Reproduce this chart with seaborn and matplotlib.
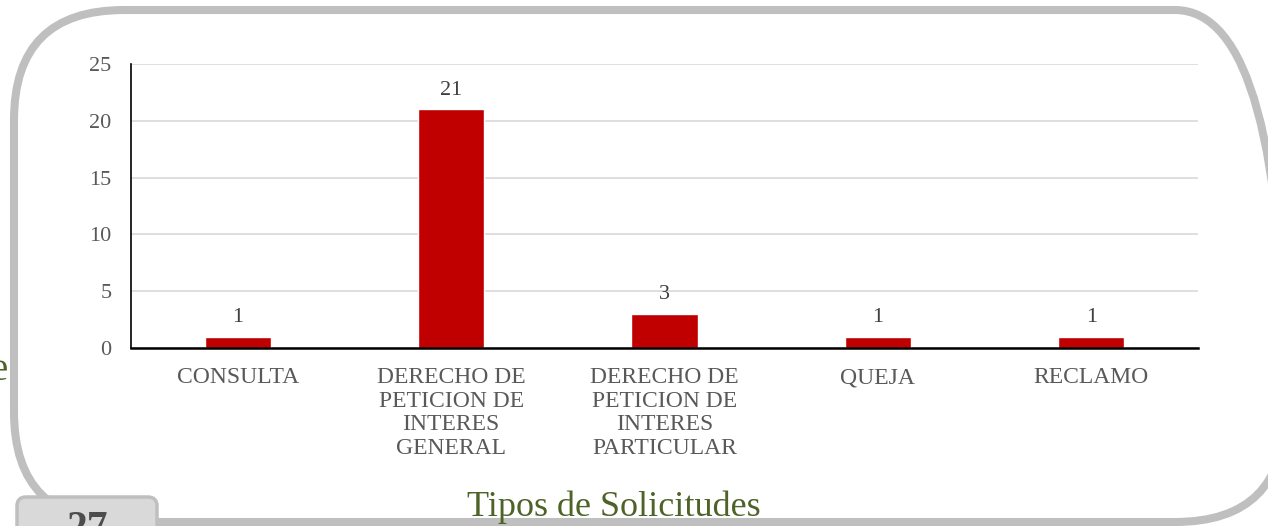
import matplotlib
matplotlib.use("Agg")
import matplotlib.pyplot as plt
from matplotlib.patches import FancyBboxPatch
from matplotlib.transforms import IdentityTransform
import seaborn as sns
import pandas as pd

# --- Data ---
categorias = ["CONSULTA", "DERECHO DE\nPETICION DE\nINTERES\nGENERAL",
              "DERECHO DE\nPETICION DE\nINTERES\nPARTICULAR", "QUEJA", "RECLAMO"]
cantidades = [1, 21, 3, 1, 1]
y_ticks = [0, 5, 10, 15, 20, 25]

df = pd.DataFrame({"Tipo": categorias, "Cantidad": cantidades})

sns.set_style("white")
plt.rcParams["font.family"] = ["Liberation Serif", "DejaVu Serif"]

W, H = 1268, 526
fig = plt.figure(figsize=(W / 100, H / 100), dpi=100)
px = IdentityTransform()  # pixel coords, origin bottom-left

# --- Decorative frame (rounded border + page number box) ---
frame = FancyBboxPatch((14, 4), 1285 - 14, 516 - 4,
                       boxstyle="round,pad=0,rounding_size=110",
                       transform=px, fill=False, edgecolor="#BFBFBF",
                       linewidth=5.8, zorder=1)
fig.patches.append(frame)

page_box = FancyBboxPatch((17, -30), 157 - 17, 29 + 30,
                          boxstyle="round,pad=0,rounding_size=9",
                          transform=px, facecolor="#D9D9D9",
                          edgecolor="#BFBFBF", linewidth=2.5, zorder=2)
fig.patches.append(page_box)
fig.text(87, -14, "27", transform=px, ha="center", va="baseline", fontsize=30,
         fontweight="bold", color="#4D4D4D", zorder=3)
fig.text(8, H - 370, "e", transform=px, ha="right", va="center", fontsize=28,
         color="#4F6228")

# --- Chart ---
ax = fig.add_axes([131 / W, 1 - 348 / H, (1198 - 131) / W, (348 - 64) / H])
sns.barplot(data=df, x="Tipo", y="Cantidad", color="#C00000", width=0.31,
            saturation=1, ax=ax)
ax.bar_label(ax.containers[0], padding=7, fontsize=16, color="#404040")

ax.set_ylim(0, 25)
ax.set_yticks(y_ticks)
ax.yaxis.grid(True, color="#D9D9D9", linewidth=1.2)
ax.set_axisbelow(True)
for s in ["top", "right"]:
    ax.spines[s].set_visible(False)
ax.spines["left"].set_color("black")
ax.spines["bottom"].set_color("black")
ax.spines["left"].set_linewidth(1.2)
ax.spines["bottom"].set_linewidth(1.8)
ax.tick_params(axis="y", length=0, labelsize=16, labelcolor="#595959", pad=14)
ax.tick_params(axis="x", length=0, labelsize=17, labelcolor="#595959", pad=14)
for lbl in ax.get_xticklabels():
    lbl.set_linespacing(1.15)
ax.set_ylabel("")
ax.set_xlabel("")

fig.text(614, H - 516, "Tipos de Solicitudes", transform=px, ha="center",
         va="baseline", fontsize=26, color="#4F6228")

fig.savefig("out.png", dpi=100)
